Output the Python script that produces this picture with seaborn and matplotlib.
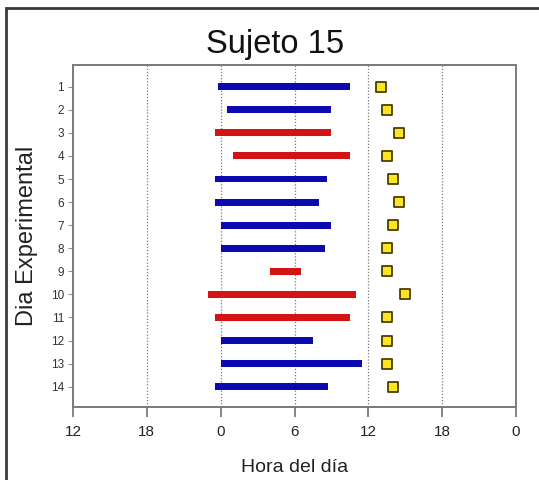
import matplotlib
matplotlib.use("Agg")
import matplotlib.pyplot as plt
import matplotlib.patches as mpatches
import numpy as np
import pandas as pd
import seaborn as sns

# Sleep episodes per experimental day (hours relative to midnight)
days = list(range(1, 15))
sleep_start = [-0.25, 0.5, -0.5, 1.0, -0.5, -0.5, 0.0, 0.0, 4.0, -1.0, -0.5, 0.0, 0.0, -0.5]
sleep_end = [10.5, 9.0, 9.0, 10.5, 8.65, 8.0, 9.0, 8.5, 6.5, 11.0, 10.5, 7.5, 11.5, 8.75]
condition = ["b", "b", "r", "r", "b", "b", "b", "b", "r", "r", "r", "b", "b", "b"]
# Daily marker time (hours)
marker_time = [13.0, 13.5, 14.5, 13.5, 14.0, 14.5, 14.0, 13.5, 13.5, 15.0, 13.5, 13.5, 13.5, 14.0]

tick_pos = [-12, -6, 0, 6, 12, 18, 24]
tick_labels = ["12", "18", "0", "6", "12", "18", "0"]
grid_pos = [-6, 0, 6, 12, 18]

sns.set_theme(style="white")
plt.rcParams["font.family"] = ["Liberation Sans", "DejaVu Sans"]

df = pd.DataFrame({"dia": days, "inicio": sleep_start, "fin": sleep_end,
                   "cond": condition, "marca": marker_time})

fig = plt.figure(figsize=(5.39, 4.80), dpi=100)
ax = fig.add_axes([73 / 539, 1 - 407 / 480, 443 / 539, 342 / 480])

for x in grid_pos:
    ax.axvline(x, color="#7a7a7a", lw=0.9, ls=(0, (1, 1.5)), zorder=0)

palette = {"b": "#0a0ab0", "r": "#d41414"}
ax.barh(df["dia"], df["fin"] - df["inicio"], left=df["inicio"], height=0.3,
        color=[palette[c] for c in df["cond"]], edgecolor="none", zorder=2)

sns.scatterplot(data=df, x="marca", y="dia", marker="s", s=58,
                color="#ffe424", edgecolor="#4a3f00", linewidth=1.3,
                ax=ax, zorder=3, legend=False)

ax.set_xlim(-12, 24)
ax.set_ylim(14.88, 0.06)
ax.set_xticks(tick_pos)
ax.set_xticklabels(tick_labels, fontsize=11, color="#222222")
ax.set_yticks(days)
ax.set_yticklabels([str(d) for d in days], fontsize=8.5, color="#333333")
ax.tick_params(axis="x", which="major", direction="out", length=7, width=1.2,
               color="#707070", pad=6, bottom=True)
ax.tick_params(axis="y", which="major", direction="out", length=3.5, width=0.8,
               color="#909090", pad=3, left=True)
for sp in ax.spines.values():
    sp.set_color("#7a7a7a")
    sp.set_linewidth(1.4)

ax.set_xlabel("Hora del día", fontsize=14, color="#222222", labelpad=14)
ax.set_ylabel("Dia Experimental", fontsize=17, color="#222222", labelpad=9)
fig.text(275.5 / 539, 1 - 53 / 480, "Sujeto 15", fontsize=23.5, color="#111111",
         ha="center", va="baseline")

frame = mpatches.Rectangle((6 / 539, -0.2), 1.3, 0.2 + 1 - 8 / 480,
                           transform=fig.transFigure, fill=False,
                           edgecolor="#3a3a3a", lw=2, clip_on=False)
fig.patches.append(frame)

fig.savefig("out.png", dpi=100)
